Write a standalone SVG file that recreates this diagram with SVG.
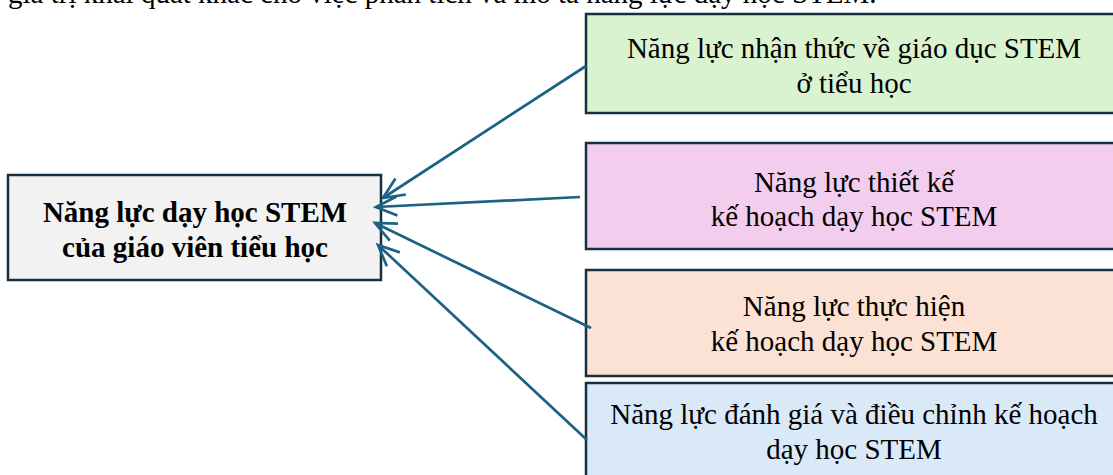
<svg xmlns="http://www.w3.org/2000/svg" width="1113" height="475" viewBox="0 0 1113 475">
<style>
.box{stroke:#17303f;stroke-width:2.5}
.t{font-family:"Liberation Serif","Times New Roman",serif;font-size:29px;fill:#000;text-anchor:middle}
.b{font-weight:bold}
.conn{stroke:#1b6284;stroke-width:2.7;fill:none}
</style>
<defs>
<marker id="arr" markerUnits="userSpaceOnUse" markerWidth="28" markerHeight="24" refX="23" refY="12" orient="auto">
<path d="M2,2.5 L23,12 L2,21.5" fill="none" stroke="#1b6284" stroke-width="2.7"/>
</marker>
</defs>
<rect width="1113" height="475" fill="#fff"/>
<text x="8" y="3" style="font-family:'Liberation Serif','Times New Roman',serif;font-size:29px">giá trị khái quát khác cho việc phân tích và mô tả năng lực dạy học STEM.</text>
<g id="main">
<rect class="box" x="8" y="175" width="373" height="105" fill="#f2f2f2"/>
<text class="t b" x="195" y="222">Năng lực dạy học STEM</text>
<text class="t b" x="195" y="257">của giáo viên tiểu học</text>
</g>
<g id="n1">
<rect class="box" x="586" y="14" width="540" height="99" fill="#d9f2d0"/>
<text class="t" x="854" y="58">Năng lực nhận thức về giáo dục STEM</text>
<text class="t" x="854" y="93">ở tiểu học</text>
</g>
<g id="n2">
<rect class="box" x="586" y="143" width="540" height="106" fill="#f2cdee"/>
<text class="t" x="854" y="192">Năng lực thiết kế</text>
<text class="t" x="854" y="226">kế hoạch dạy học STEM</text>
</g>
<g id="n3">
<rect class="box" x="586" y="270" width="540" height="106" fill="#fbe2d5"/>
<text class="t" x="854" y="316">Năng lực thực hiện</text>
<text class="t" x="854" y="351">kế hoạch dạy học STEM</text>
</g>
<g id="n4">
<rect class="box" x="586" y="383" width="540" height="110" fill="#dae9f7"/>
<text class="t" x="854" y="424">Năng lực đánh giá và điều chỉnh kế hoạch</text>
<text class="t" x="854" y="459">dạy học STEM</text>
</g>
<g id="connectors">
<line class="conn" x1="586" y1="66" x2="383" y2="198" marker-end="url(#arr)"/>
<line class="conn" x1="580" y1="197" x2="376" y2="207" marker-end="url(#arr)"/>
<line class="conn" x1="591" y1="328" x2="375" y2="223" marker-end="url(#arr)"/>
<line class="conn" x1="587" y1="440" x2="378" y2="245" marker-end="url(#arr)"/>
</g>
</svg>
